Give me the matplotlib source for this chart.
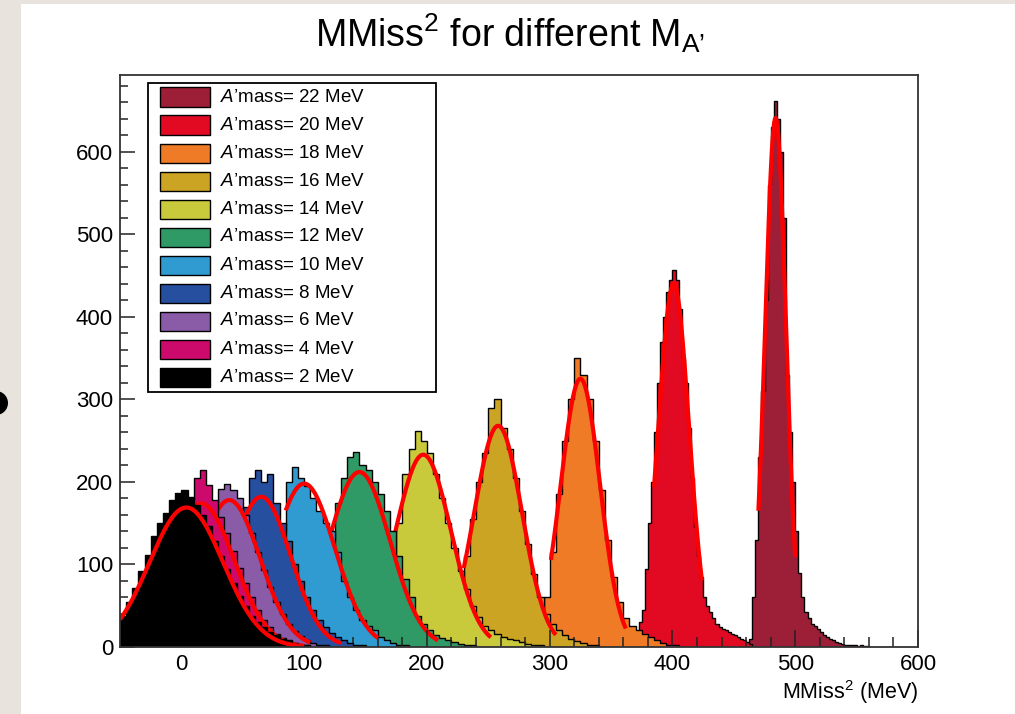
import matplotlib
matplotlib.use("Agg")
import matplotlib.pyplot as plt
import numpy as np
from matplotlib.patches import Rectangle, Ellipse
from matplotlib.ticker import MultipleLocator

plt.rcParams['font.family'] = ['Liberation Sans', 'DejaVu Sans']
plt.rcParams['mathtext.fontset'] = 'custom'
plt.rcParams['mathtext.rm'] = 'Liberation Sans'
plt.rcParams['mathtext.it'] = 'Liberation Sans:italic'
plt.rcParams['mathtext.bf'] = 'Liberation Sans:bold'

# A' masses in MeV, in the order the histograms were drawn (heaviest first)
masses = [22, 20, 18, 16, 14, 12, 10, 8, 6, 4, 2]
colors = ['#9c1f37', '#e10a22', '#ef7b26', '#cba423', '#c9c93c', '#2f9a66',
          '#2f9bd1', '#264f9f', '#8a5ba6', '#cc0a6b', '#000000']

# binning of each histogram: lower edge of first bin, bin width
bin_start = [462.5, 372.5, 285, 205, 150, 95, 45, 0, -30, -50, -50]
bin_width = [2.5, 2.5, 5, 5, 5, 5, 5, 5, 5, 5, 5]

counts_22 = [10, 60, 130, 230, 310, 420, 560, 630, 662, 640, 600, 520, 330, 260,
             200, 140, 90, 60, 42, 35, 28, 26, 22, 18, 14, 12, 10, 8, 6, 5, 4, 3,
             3, 2, 2, 1, 2, 1, 1]
counts_20 = [30, 45, 95, 150, 200, 260, 320, 370, 400, 430, 445, 457, 445, 410,
             350, 320, 265, 205, 145, 110, 85, 60, 50, 42, 35, 28, 24, 22, 20, 18,
             16, 14, 12, 10, 8, 6, 4]
counts_18 = [10, 25, 60, 115, 185, 250, 300, 350, 330, 300, 250, 190, 130, 85, 55,
             35, 25, 20, 16, 12, 8, 5, 3, 2]
counts_16 = [8, 15, 28, 48, 75, 110, 155, 200, 235, 290, 300, 265, 240, 205, 165,
             125, 88, 60, 40, 28, 20, 14, 10, 7, 5, 3, 2]
counts_14 = [10, 18, 30, 55, 100, 150, 210, 240, 262, 250, 235, 210, 180, 150, 120,
             92, 70, 50, 36, 26, 20, 16, 12, 10, 8, 6, 4, 3, 2]
counts_12 = [15, 25, 40, 60, 90, 130, 175, 205, 230, 236, 220, 215, 200, 185, 165,
             140, 110, 82, 60, 38, 28, 20, 15, 11, 8, 6, 4, 3, 2]
counts_10 = [10, 18, 28, 42, 60, 85, 110, 140, 200, 218, 205, 195, 180, 165, 150,
             140, 115, 80, 60, 45, 33, 26, 20, 12, 8, 5, 3, 2]
counts_8 = [6, 10, 17, 26, 38, 54, 75, 96, 120, 145, 170, 205, 215, 200, 210, 175,
            150, 128, 100, 80, 60, 45, 33, 24, 17, 12, 8, 5, 3, 2]
counts_6 = [5, 9, 14, 21, 32, 45, 61, 80, 100, 125, 150, 175, 192, 198, 190, 180,
            160, 138, 115, 93, 73, 55, 40, 28, 19, 13, 8, 5, 3, 2]
counts_4 = [10, 15, 22, 33, 45, 60, 78, 98, 118, 140, 160, 180, 205, 215, 196, 178,
            158, 138, 116, 96, 78, 60, 45, 33, 24, 16, 11, 7, 4, 3, 2]
counts_2 = [38, 55, 72, 92, 112, 135, 150, 162, 178, 186, 190, 182, 172, 160, 146,
            128, 110, 94, 78, 62, 50, 38, 30, 24, 18, 14, 10, 8, 5, 3, 2]

# gaussian fit results (constant, mean, sigma) and fit ranges
fit_const = [641, 440, 325, 268, 233, 212, 198, 182, 178, 174, 169]
fit_mean = [484, 401, 325, 258, 197, 145, 100, 65, 39, 16, 4]
fit_sigma = [8.5, 12.5, 16, 19.5, 22.5, 25, 25, 24, 25, 27, 30]
fit_lo = [470, 385, 301, 230, 171, 122, 85, 40, 15, -10, -50]
fit_hi = [500, 424, 362, 305, 252, 209, 160, 130, 105, 100, 100]

all_counts = [counts_22, counts_20, counts_18, counts_16, counts_14, counts_12,
              counts_10, counts_8, counts_6, counts_4, counts_2]

W, H = 1015, 714
fig = plt.figure(figsize=(W / 100, H / 100), dpi=100, facecolor='#e8e4dd')

def fx(px):
    return px / W

def fy(py):
    return 1 - py / H

# white slide area + the bullet peeking in at the left
fig.patches.append(Rectangle((fx(21), 0), 1, fy(4), transform=fig.transFigure,
                             facecolor='white', edgecolor='none', zorder=-2))
fig.patches.append(Ellipse((fx(-4), fy(403)), 24 / W, 24 / H, transform=fig.transFigure,
                           facecolor='black', edgecolor='none', zorder=-1))

ax = fig.add_axes([fx(120), fy(647), fx(918) - fx(120), fy(75) - fy(647)])
ax.set_facecolor('white')

for k in range(len(masses)):
    cts = np.array(all_counts[k], dtype=float)
    edges = bin_start[k] + bin_width[k] * np.arange(len(cts) + 1)
    z = 1 + k * 0.08
    ax.stairs(cts, edges, fill=True, color=colors[k], lw=0, zorder=z)
    ax.stairs(cts, edges, color='black', lw=1.0, zorder=z + 0.02)
    xf = np.linspace(fit_lo[k], fit_hi[k], 300)
    yf = fit_const[k] * np.exp(-0.5 * ((xf - fit_mean[k]) / fit_sigma[k]) ** 2)
    ax.plot(xf, yf, color='#ff0000', lw=3.0, zorder=z + 0.04, solid_capstyle='butt')

ax.set_xlim(-50, 600)
ax.set_ylim(0, 693)
ax.xaxis.set_major_locator(MultipleLocator(100))
ax.xaxis.set_minor_locator(MultipleLocator(20))
ax.yaxis.set_major_locator(MultipleLocator(100))
ax.yaxis.set_minor_locator(MultipleLocator(20))
ax.tick_params(which='both', direction='in', top=False, right=False,
               labelsize=16, color='#222222', width=1.1)
ax.tick_params(axis='y', which='major', length=11, pad=5)
ax.tick_params(axis='y', which='minor', length=6)
ax.tick_params(axis='x', which='major', length=12, pad=5)
ax.tick_params(axis='x', which='minor', length=7)
for s in ax.spines.values():
    s.set_linewidth(1.3)
    s.set_color('#333333')
    s.set_zorder(5)

ax.text(1.0, (647 - 699) / 572, r'MMiss$^2$ (MeV)', transform=ax.transAxes,
        ha='right', va='baseline', fontsize=15.5)

fig.text(fx(510), fy(47), "MMiss$^2$ for different M$_{\\mathrm{A\u2019}}$",
         ha='center', va='baseline', fontsize=27)

# legend box drawn by hand, same layout as the ROOT TLegend
fig.patches.append(Rectangle((fx(148), fy(392)), fx(436) - fx(148), fy(83) - fy(392),
                             transform=fig.transFigure, facecolor='white',
                             edgecolor='black', lw=1.3, zorder=3))
for k in range(len(masses)):
    yc = 97 + 28 * k
    fig.patches.append(Rectangle((fx(160), fy(yc + 9.5)), fx(210) - fx(160), 19 / H,
                                 transform=fig.transFigure, facecolor=colors[k],
                                 edgecolor='black', lw=1.0, zorder=4))
    fig.text(fx(220), fy(yc), "$\\mathit{A\u2019}$mass= %d MeV" % masses[k],
             ha='left', va='center', fontsize=13.5, zorder=4)

fig.savefig('out.png', dpi=100, facecolor=fig.get_facecolor())
